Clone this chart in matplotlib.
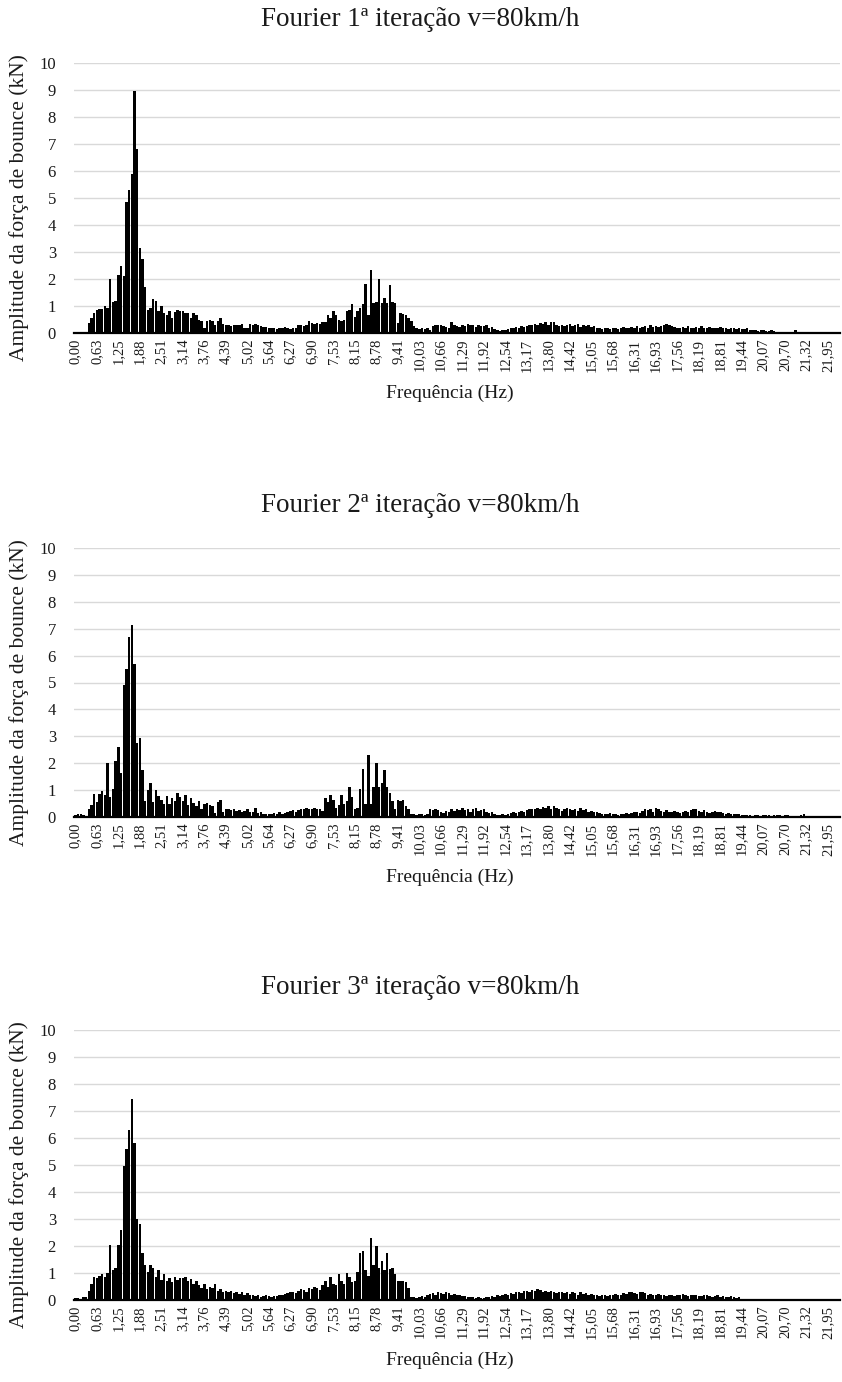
import matplotlib
matplotlib.use("Agg")
import matplotlib.pyplot as plt
import numpy as np

plt.rcParams['font.family'] = ['Liberation Serif', 'DejaVu Serif']

# ---------------- data ----------------
tick_labels = ["0,00", "0,63", "1,25", "1,88", "2,51", "3,14", "3,76", "4,39", "5,02",
               "5,64", "6,27", "6,90", "7,53", "8,15", "8,78", "9,41", "10,03", "10,66",
               "11,29", "11,92", "12,54", "13,17", "13,80", "14,42", "15,05", "15,68",
               "16,31", "16,93", "17,56", "18,19", "18,81", "19,44", "20,07", "20,70",
               "21,32", "21,95"]
label_every = 8  # one frequency label every 8 spectral lines

titles = ["Fourier 1ª iteração v=80km/h",
          "Fourier 2ª iteração v=80km/h",
          "Fourier 3ª iteração v=80km/h"]
xlabel = "Frequência (Hz)"
ylabel = "Amplitude da força de bounce (kN)"

amp_iter1 = [
    0.03, 0.03, 0.03, 0.03, 0.03,
    0.37, 0.55, 0.75, 0.86, 0.9, 0.88, 1.0, 0.93, 2.0, 1.15,
    1.2, 2.15, 2.5, 2.1, 4.85, 5.3, 5.9, 8.95, 6.8, 3.15,
    2.75, 1.7, 0.85, 0.92, 1.27, 1.2, 0.8, 1.0, 0.74, 0.65,
    0.8, 0.55, 0.77, 0.86, 0.8, 0.8, 0.74, 0.74, 0.55, 0.74,
    0.68, 0.5, 0.43, 0.18, 0.43, 0.47, 0.43, 0.3, 0.43, 0.55,
    0.32, 0.28, 0.3, 0.25, 0.3,
    0.3, 0.28, 0.32, 0.18, 0.2,
    0.33, 0.3, 0.33, 0.28, 0.25, 0.22,
    0.22, 0.2, 0.18, 0.2, 0.15, 0.2, 0.18, 0.22,
    0.18, 0.15, 0.2, 0.18, 0.28, 0.3, 0.25, 0.28,
    0.43, 0.37, 0.35, 0.38, 0.33, 0.4,
    0.4, 0.65, 0.55, 0.8, 0.65, 0.5, 0.43, 0.48, 0.8, 0.85, 1.06, 0.6, 0.8, 0.92, 1.06,
    1.83, 0.67, 2.35, 1.1, 1.16, 2.0, 1.1, 1.3, 1.1, 1.77, 1.16, 1.1, 0.37, 0.73, 0.7, 0.65, 0.55,
    0.45, 0.25, 0.18, 0.15, 0.18, 0.16, 0.18, 0.12, 0.25, 0.28,
    0.3, 0.28, 0.26, 0.22, 0.18, 0.4, 0.28, 0.25, 0.22, 0.3,
    0.25, 0.32, 0.28, 0.3, 0.22, 0.3, 0.27, 0.25, 0.3, 0.2, 0.22, 0.15,
    0.1, 0.08, 0.12, 0.1,
    0.15, 0.2, 0.18, 0.22, 0.2, 0.25, 0.22, 0.25,
    0.3, 0.28, 0.32, 0.3, 0.38, 0.35, 0.4, 0.3, 0.42, 0.42, 0.3, 0.25,
    0.3, 0.25, 0.28, 0.32, 0.25, 0.3, 0.35, 0.22, 0.28, 0.25, 0.3, 0.22, 0.25,
    0.18, 0.2, 0.15, 0.18, 0.2, 0.16, 0.18, 0.2, 0.15, 0.18, 0.22, 0.2,
    0.2, 0.22, 0.18, 0.25, 0.2, 0.22, 0.25, 0.2, 0.28, 0.22, 0.25, 0.22, 0.25,
    0.28, 0.32, 0.3, 0.25, 0.22,
    0.2, 0.18, 0.22, 0.2, 0.25, 0.2, 0.18, 0.22, 0.2, 0.25,
    0.18, 0.2, 0.22, 0.2, 0.18, 0.2, 0.22, 0.18, 0.2, 0.16,
    0.18, 0.2, 0.15, 0.18, 0.16, 0.15, 0.17,
    0.12, 0.1, 0.12, 0.08, 0.1, 0.12, 0.08, 0.06, 0.1, 0.08,
    0.04, 0.03, 0.05, 0.03, 0.04, 0.03, 0.04,
    0.12,
    0.02, 0.02, 0.03, 0.02, 0.02, 0.02, 0.03, 0.02,
    0.02, 0.02, 0.02, 0.03, 0.02, 0.02, 0.02, 0.02,
]

amp_iter2 = [
    0.08, 0.1, 0.12, 0.06, 0.05, 0.3, 0.45, 0.85, 0.55, 0.85,
    0.95, 0.8, 2.02, 0.75, 1.05, 2.1, 2.6, 1.65, 4.9, 5.5,
    6.7, 7.15, 5.7, 2.75, 2.95, 1.75, 0.6, 1.0, 1.25, 0.55,
    1.0, 0.78, 0.65, 0.5, 0.78, 0.5, 0.72, 0.6, 0.88, 0.75,
    0.58, 0.82, 0.45, 0.7, 0.52, 0.42, 0.58, 0.28, 0.5, 0.52,
    0.45, 0.4, 0.15, 0.55, 0.62,
    0.18, 0.3, 0.28, 0.25, 0.3, 0.22,
    0.25, 0.2, 0.22, 0.28, 0.18,
    0.2, 0.33,
    0.15, 0.18, 0.12, 0.1, 0.12, 0.1, 0.15, 0.12,
    0.2, 0.12, 0.15, 0.2, 0.22,
    0.25, 0.2, 0.25, 0.3, 0.28, 0.35,
    0.3, 0.28, 0.32, 0.28, 0.3, 0.22,
    0.7, 0.55, 0.8, 0.65, 0.35, 0.45, 0.8, 0.5, 0.6, 1.1,
    0.75, 0.3, 0.35, 1.05, 1.8, 0.5, 2.3, 0.5, 1.1, 2.0,
    1.1, 1.25, 1.75, 1.1, 0.9, 0.6, 0.3, 0.65, 0.6, 0.65,
    0.4, 0.3,
    0.12, 0.1, 0.08, 0.12, 0.1, 0.06, 0.1,
    0.28, 0.25, 0.3, 0.25, 0.2, 0.15, 0.22,
    0.18, 0.3, 0.22, 0.28, 0.25, 0.32,
    0.25, 0.3, 0.2, 0.28, 0.32, 0.22, 0.25, 0.3, 0.2, 0.15, 0.18, 0.12,
    0.08, 0.06, 0.1, 0.08,
    0.12, 0.15, 0.18, 0.15, 0.2, 0.22, 0.18, 0.25, 0.28, 0.3,
    0.3, 0.35, 0.3, 0.38, 0.32, 0.41, 0.3, 0.42, 0.35, 0.28,
    0.22, 0.3, 0.35, 0.28, 0.25, 0.3, 0.22, 0.32, 0.25, 0.28, 0.2, 0.22, 0.18, 0.2,
    0.15, 0.12, 0.1, 0.12, 0.15, 0.1, 0.12, 0.08, 0.12, 0.1, 0.15, 0.12,
    0.15, 0.18, 0.2, 0.15, 0.22, 0.28, 0.25, 0.3, 0.2, 0.35,
    0.3, 0.22, 0.2, 0.25, 0.18, 0.2, 0.22,
    0.2, 0.15, 0.18, 0.22, 0.2, 0.25, 0.3, 0.28, 0.22, 0.18,
    0.25, 0.2, 0.15, 0.18, 0.22, 0.2, 0.18, 0.15, 0.12, 0.15,
    0.12, 0.1, 0.12, 0.1, 0.08,
    0.08, 0.06, 0.08, 0.05, 0.06, 0.08, 0.05, 0.07, 0.06, 0.08,
    0.05, 0.06, 0.08, 0.06, 0.05, 0.07, 0.06, 0.05, 0.04, 0.05,
    0.04, 0.08, 0.1, 0.05,
    0.02, 0.02, 0.03, 0.02, 0.02, 0.02, 0.02, 0.03, 0.02, 0.02, 0.02, 0.02,
]

amp_iter3 = [
    0.06, 0.08, 0.05, 0.1, 0.12,
    0.35, 0.6, 0.85, 0.8, 0.9, 0.95, 0.85, 1.0, 2.05, 1.1,
    1.2, 2.05, 2.6, 4.95, 5.6, 6.3, 7.45, 5.8, 3.0, 2.8,
    1.75, 1.3, 1.05, 1.3, 1.2, 0.85, 1.1, 0.75, 0.95, 0.7,
    0.8, 0.65, 0.85, 0.75, 0.82, 0.8, 0.85, 0.7, 0.78, 0.6,
    0.72, 0.55, 0.45, 0.6, 0.42, 0.5, 0.45, 0.58, 0.35, 0.4,
    0.3, 0.35, 0.28, 0.32, 0.25, 0.3, 0.22, 0.28, 0.2, 0.25,
    0.18, 0.2, 0.15, 0.18, 0.12, 0.15, 0.18, 0.14, 0.12, 0.16, 0.15, 0.2, 0.18, 0.22, 0.25, 0.28,
    0.3, 0.25, 0.35, 0.42, 0.38, 0.3, 0.45, 0.4, 0.5, 0.45, 0.38, 0.55,
    0.7, 0.5, 0.85, 0.6, 0.55, 0.95, 0.7, 0.6, 1.0, 0.85, 0.65, 0.7, 1.05, 1.75, 1.8,
    1.1, 0.9, 2.3, 1.3, 2.0, 1.2, 1.45, 1.1, 1.75, 1.15, 1.2, 0.95, 0.7, 0.72, 0.7, 0.65, 0.45,
    0.1, 0.12, 0.08, 0.1, 0.15, 0.12, 0.18, 0.22, 0.25, 0.2,
    0.28, 0.25, 0.22, 0.3, 0.25, 0.2, 0.22, 0.18, 0.2, 0.15,
    0.15, 0.12, 0.1, 0.12, 0.08, 0.1, 0.06, 0.08, 0.1, 0.12, 0.15, 0.12, 0.18, 0.15, 0.2, 0.22,
    0.2, 0.25, 0.22, 0.28, 0.3, 0.25, 0.32, 0.35, 0.3, 0.38,
    0.35, 0.42, 0.38, 0.3, 0.35, 0.28, 0.32, 0.3, 0.25, 0.28,
    0.3, 0.25, 0.28, 0.22, 0.3, 0.25, 0.2, 0.28, 0.22, 0.25,
    0.2, 0.22, 0.18, 0.2, 0.15, 0.18, 0.2, 0.16, 0.18, 0.2,
    0.22, 0.18, 0.2, 0.25, 0.22, 0.28, 0.3, 0.25, 0.22, 0.28,
    0.3, 0.25, 0.2, 0.22, 0.18, 0.2, 0.22, 0.18, 0.2, 0.16,
    0.18, 0.2, 0.15, 0.18, 0.2, 0.22, 0.18, 0.15, 0.2, 0.18,
    0.2, 0.16, 0.15, 0.18, 0.2, 0.15, 0.12, 0.15, 0.18, 0.12,
    0.15, 0.1, 0.12, 0.15, 0.1, 0.08, 0.1,
    0.04, 0.03, 0.03, 0.04, 0.03, 0.03, 0.04, 0.03, 0.03, 0.03,
    0.04, 0.03, 0.03, 0.03, 0.04, 0.03, 0.03, 0.03, 0.03, 0.04,
    0.03, 0.03, 0.03, 0.03, 0.04, 0.03, 0.03, 0.03, 0.03, 0.03,
    0.03, 0.03, 0.03, 0.03, 0.03, 0.03, 0.03,
]

series = [amp_iter1, amp_iter2, amp_iter3]

# ---------------- layout (pixel geometry of the reference) ----------------
W, H = 842, 1382
fig = plt.figure(figsize=(W / 100, H / 100), dpi=100)

plot_left, plot_right = 74, 840
plot_tops = [63, 548, 1030]      # y of value 10
plot_bottoms = [333, 817, 1300]  # y of value 0
title_y = [20, 505, 988]
xlabel_off = 60                  # x label centre below the baseline

text_color = "#1a1a1a"

for k in range(3):
    vals = series[k]
    n = len(vals)
    top, bot = plot_tops[k], plot_bottoms[k]
    ax = fig.add_axes([plot_left / W, 1 - bot / H,
                       (plot_right - plot_left) / W, (bot - top) / H])
    x = np.arange(n)
    ax.bar(x, vals, width=0.9, color="black", edgecolor="none", zorder=3)
    ax.set_xlim(-0.5, n - 0.5)
    ax.set_ylim(0, 10)
    ax.set_yticks(range(0, 11))
    ax.yaxis.grid(True, color="#d9d9d9", linewidth=1.0, zorder=0)
    ax.set_axisbelow(True)
    for s in ["top", "right", "left"]:
        ax.spines[s].set_visible(False)
    ax.spines["bottom"].set_color("black")
    ax.spines["bottom"].set_linewidth(1.6)
    ax.spines["bottom"].set_zorder(4)

    tick_pos = [i * label_every for i in range(len(tick_labels))]
    ax.set_xticks(tick_pos)
    ax.set_xticklabels(tick_labels, rotation=90, fontsize=10.5, color=text_color)
    ax.tick_params(axis="x", length=0, pad=4)
    ax.tick_params(axis="y", length=0, pad=13, labelsize=12, labelcolor=text_color)

    fig.text(420 / W, 1 - title_y[k] / H, titles[k],
             ha="center", va="center", fontsize=19.5, color=text_color)
    fig.text(450 / W, 1 - (bot + xlabel_off) / H, xlabel,
             ha="center", va="center", fontsize=14, color=text_color)
    fig.text(19 / W, 1 - (0.5 * (top + bot) + 10) / H, ylabel, rotation=90,
             ha="center", va="center", fontsize=15.5, color=text_color)

fig.savefig("out.png", dpi=100, facecolor="white")
